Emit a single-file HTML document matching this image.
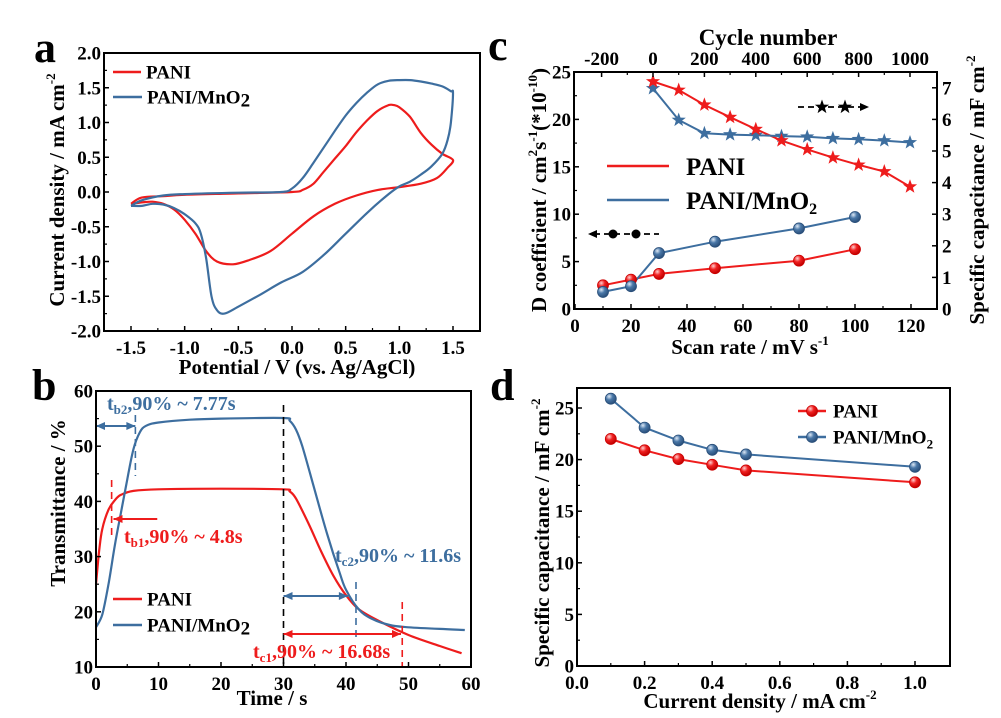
<!DOCTYPE html>
<html><head><meta charset="utf-8">
<style>
html,body{margin:0;padding:0;background:#fff;}
svg{display:block;font-family:"Liberation Serif",serif;font-weight:bold;}
</style></head>
<body>
<svg id="fig" width="1001" height="718" viewBox="0 0 1001 718" xmlns="http://www.w3.org/2000/svg">
<defs>
<radialGradient id="gRed" cx="0.35" cy="0.3" r="0.7"><stop offset="0" stop-color="#ffd0d0"/><stop offset="0.45" stop-color="#f02020"/><stop offset="1" stop-color="#c00000"/></radialGradient>
<radialGradient id="gBlue" cx="0.35" cy="0.3" r="0.7"><stop offset="0" stop-color="#dde8f5"/><stop offset="0.45" stop-color="#4a78a8"/><stop offset="1" stop-color="#2a4f7a"/></radialGradient>
</defs>
</svg>
<script>
// ---------- Panel a data (CV) ----------
const cvPaniV = [-1.5,-1.4,-1.2,-1.0,-0.5,0,0.1,0.2,0.3,0.4,0.5,0.6,0.7,0.8,0.9,0.95,1.0,1.1,1.2,1.3,1.4,1.5,1.45,1.35,1.2,1.0,0.8,0.6,0.4,0.2,0.0,-0.2,-0.4,-0.55,-0.7,-0.8,-0.9,-1.0,-1.1,-1.2,-1.3,-1.4,-1.5];
const cvPaniI = [-0.17,-0.08,-0.06,-0.04,-0.02,0.0,0.03,0.12,0.3,0.48,0.66,0.86,1.03,1.17,1.25,1.25,1.22,1.08,0.85,0.68,0.55,0.46,0.35,0.2,0.12,0.07,0.03,-0.05,-0.17,-0.35,-0.6,-0.85,-0.98,-1.04,-1.0,-0.85,-0.6,-0.4,-0.25,-0.17,-0.14,-0.15,-0.17];
const cvMnV = [-1.5,-1.4,-1.2,-1.0,-0.5,-0.1,0.0,0.1,0.2,0.3,0.4,0.5,0.6,0.7,0.8,0.9,1.0,1.1,1.2,1.3,1.4,1.48,1.5,1.48,1.45,1.4,1.3,1.2,1.1,1.0,0.9,0.7,0.5,0.3,0.1,-0.1,-0.3,-0.5,-0.63,-0.7,-0.75,-0.8,-0.85,-0.9,-1.0,-1.1,-1.2,-1.3,-1.4,-1.5];
const cvMnI = [-0.2,-0.12,-0.05,-0.03,-0.01,0.0,0.05,0.2,0.42,0.65,0.88,1.1,1.28,1.43,1.55,1.6,1.61,1.61,1.59,1.56,1.52,1.45,1.42,1.0,0.75,0.55,0.37,0.25,0.15,0.08,-0.03,-0.3,-0.6,-0.9,-1.15,-1.3,-1.48,-1.65,-1.75,-1.7,-1.5,-0.95,-0.6,-0.45,-0.32,-0.23,-0.18,-0.17,-0.2,-0.2];
const aXTicks = [-1.5,-1.0,-0.5,0.0,0.5,1.0,1.5];
const aYTicks = [-2.0,-1.5,-1.0,-0.5,0.0,0.5,1.0,1.5,2.0];
// ---------- Panel b data (transmittance) ----------
const trPaniT = [0,0.5,1,2,3,4,6,10,20,30,31,32,34,36,38,40,42,45,50,55,58.5];
const trPaniY = [25,31,35,38.5,40.2,41.2,41.9,42.2,42.3,42.2,41.8,40.5,36,31,26.5,23,20.5,18.5,15.8,13.8,12.5];
const trMnT = [0,1,2,3,4,5,6,7,8,10,15,20,30,31,32,33,35,37,39,40,42,44,47,50,55,59];
const trMnY = [17.2,19.5,25,32,38,44,49.5,52.5,53.7,54.3,54.8,55,55.1,54.6,53,50,42,34,27,24,20.5,18.8,17.6,17.2,16.9,16.7];
const bXTicks = [0,10,20,30,40,50,60];
const bYTicks = [10,20,30,40,50,60];
// ---------- Panel c data ----------
const scanRates = [10,20,30,50,80,100];
const dPani = [2.5,3.1,3.7,4.3,5.1,6.3];
const dMn = [1.8,2.4,5.9,7.1,8.5,9.7];
const cycles = [0,100,200,300,400,500,600,700,800,900,1000];
const capCyclePani = [7.2,6.93,6.46,6.07,5.69,5.33,5.05,4.79,4.56,4.35,3.87];
const capCycleMn = [6.98,5.98,5.56,5.52,5.5,5.47,5.45,5.4,5.37,5.33,5.27];
const cXTicks = [0,20,40,60,80,100,120];
const cYTicks = [0,5,10,15,20,25];
const cTopTicks = [-200,0,200,400,600,800,1000];
const cRightTicks = [0,1,2,3,4,5,6,7];
// ---------- Panel d data ----------
const currDens = [0.1,0.2,0.3,0.4,0.5,1.0];
const capPani = [22.0,20.9,20.05,19.5,18.95,17.8];
const capMn = [25.9,23.1,21.85,20.95,20.5,19.3];
const dXTicks = [0.0,0.2,0.4,0.6,0.8,1.0];
const dYTicks = [0,5,10,15,20,25];

const NS = "http://www.w3.org/2000/svg";
const svg = document.getElementById('fig');
const RED = "#ee1c1c", BLUE = "#3d6e9f";
const TICK = 19, TITLE = 21;
function el(tag, attrs, parent, text){
  const e = document.createElementNS(NS, tag);
  for (const k in attrs) e.setAttribute(k, attrs[k]);
  if (text !== undefined) e.textContent = text;
  (parent || svg).appendChild(e);
  return e;
}
function lin(d0,d1,r0,r1){ return v => r0 + (v-d0)*(r1-r0)/(d1-d0); }
function fmt(v,dec){ return v.toFixed(dec); }
function pathFrom(xs, ys, sx, sy){
  return xs.map((x,i)=>(i?'L':'M')+sx(x).toFixed(1)+' '+sy(ys[i]).toFixed(1)).join(' ');
}
function smoothPath(xs, ys, sx, sy){
  const p = xs.map((x,i)=>[sx(x), sy(ys[i])]);
  let d = 'M'+p[0][0].toFixed(1)+' '+p[0][1].toFixed(1);
  for (let i=0;i<p.length-1;i++){
    const p0=p[Math.max(0,i-1)], p1=p[i], p2=p[i+1], p3=p[Math.min(p.length-1,i+2)];
    const c1=[p1[0]+(p2[0]-p0[0])/6, p1[1]+(p2[1]-p0[1])/6];
    const c2=[p2[0]-(p3[0]-p1[0])/6, p2[1]-(p3[1]-p1[1])/6];
    d+=' C'+c1[0].toFixed(1)+' '+c1[1].toFixed(1)+' '+c2[0].toFixed(1)+' '+c2[1].toFixed(1)+' '+p2[0].toFixed(1)+' '+p2[1].toFixed(1);
  }
  return d;
}
function frame(g, x0,y0,x1,y1){
  const r = el('rect',{x:x0,y:y0,width:x1-x0,height:y1-y0,fill:'none',stroke:'#000','stroke-width':2},g);
  
  
}
function xTicks(g, ticks, sx, yb, dec, minor, side){
  ticks.forEach((t,i)=>{
    const x = sx(t);
    el('line',{x1:x,x2:x,y1:yb,y2:side==='top'?yb+5:yb-5,stroke:'#000','stroke-width':1.5},g);
    const tx = el('text',{x:x,y:side==='top'?yb-7:yb+23,'text-anchor':'middle','font-size':TICK},g,fmt(t,dec));
    
    
    if (minor && i<ticks.length-1){
      const xm = sx((t+ticks[i+1])/2);
      el('line',{x1:xm,x2:xm,y1:yb,y2:side==='top'?yb+3:yb-3,stroke:'#000','stroke-width':1.2},g);
    }
  });
}
function yTicks(g, ticks, sy, xl, dec, minor, side){
  ticks.forEach((t,i)=>{
    const y = sy(t);
    const dir = side==='right' ? -1 : 1;
    el('line',{x1:xl,x2:xl+5*dir,y1:y,y2:y,stroke:'#000','stroke-width':1.5},g);
    const tx = el('text',{x:side==='right'?xl+5:xl-3,y:y+6.5,'text-anchor':side==='right'?'start':'end','font-size':TICK},g,fmt(t,dec));
    
    
    if (minor && i<ticks.length-1){
      const ym = sy((t+ticks[i+1])/2);
      el('line',{x1:xl,x2:xl+3*dir,y1:ym,y2:ym,stroke:'#000','stroke-width':1.2},g);
    }
  });
}
function panelLetter(ch,x,y){
  const t = el('text',{x:x,y:y,'font-size':44},svg,ch);
  
  
}
function rotTitle(g, x, y, html, name, size){
  const t = el('text',{x:x,y:y,'text-anchor':'middle','font-size':size||TITLE,transform:'rotate(-90 '+x+' '+y+')'},g);
  t.innerHTML = html;
  
  
  return t;
}
function title(g,x,y,html,name,size){
  const t = el('text',{x:x,y:y,'text-anchor':'middle','font-size':size||TITLE},g);
  t.innerHTML = html;
  
  
  return t;
}
function ball(g,x,y,grad,name){
  const c = el('circle',{cx:x,cy:y,r:5.5,fill:'url(#'+grad+')',stroke:grad==='gRed'?'#c00':'#2a4f7a','stroke-width':0.8},g);
  
  
}
function star(g,x,y,color,name){
  const pts=[];
  for(let k=0;k<10;k++){const r=k%2?3:7.5;const a=-Math.PI/2+k*Math.PI/5;pts.push((x+r*Math.cos(a)).toFixed(1)+','+(y+r*Math.sin(a)).toFixed(1));}
  const s = el('polygon',{points:pts.join(' '),fill:color},g);
  
  
}
function legendLine(g,x1,x2,y,color,label,size,tx){
  const l = el('line',{x1:x1,x2:x2,y1:y,y2:y,stroke:color,'stroke-width':2.5},g);
  
  
  const t = el('text',{x:tx,y:y+size*0.35,'font-size':size},g);
  t.innerHTML = label;
  
  
}

// ================= Panel a =================
(function(){
  const g = el('g',{});
  
  
  const x0=104,x1=480,y0=53,y1=331;
  const sx = lin(-1.5,1.5,131,453), sy = lin(-2,2,331,53);
  const p1 = el('path',{d:smoothPath(cvPaniV,cvPaniI,sx,sy),fill:'none',stroke:RED,'stroke-width':2.2},g);
  
  
  const p2 = el('path',{d:smoothPath(cvMnV,cvMnI,sx,sy),fill:'none',stroke:BLUE,'stroke-width':2.2},g);
  
  
  frame(g,x0,y0,x1,y1);
  xTicks(g,aXTicks,sx,y1,1,true);
  yTicks(g,aYTicks,sy,x0,1,true);
  rotTitle(g,64,190,'Current density / mA cm<tspan font-size="13" dy="-9">-2</tspan>','y-axis-title');
  title(g,297,374,'Potential / V (vs. Ag/AgCl)','x-axis-title');
  legendLine(g,113,141,72,RED,'PANI',19,146);
  legendLine(g,113,142,97,BLUE,'PANI/MnO<tspan font-size="19" dy="3">2</tspan>',19,147);
})();
panelLetter('a',34,62);

// ================= Panel b =================
(function(){
  const g = el('g',{});
  
  
  const x0=96,x1=471,y0=391,y1=667;
  const sx = lin(0,60,96,471), sy = lin(10,60,667,391);
  const p1 = el('path',{d:smoothPath(trPaniT,trPaniY,sx,sy),fill:'none',stroke:RED,'stroke-width':2.2},g);
  
  
  const p2 = el('path',{d:smoothPath(trMnT,trMnY,sx,sy),fill:'none',stroke:BLUE,'stroke-width':2.2},g);
  
  
  const dash = (x,ya,yb,c,n)=>{const l=el('line',{x1:x,x2:x,y1:ya,y2:yb,stroke:c,'stroke-width':1.6,'stroke-dasharray':'7,5'},g);};
  dash(sx(30),405,667,'#000','switch-time-marker');
  dash(sx(6.3),415,476,BLUE,'tb2-marker');
  dash(sx(2.5),480,538,RED,'tb1-marker');
  dash(sx(41.6),582,642,BLUE,'tc2-marker');
  dash(sx(49),602,667,RED,'tc1-marker');
  const arrow=(xa,xb,y,c,both,n)=>{
    const gg=el('g',{},g);
    el('line',{x1:xa,x2:xb,y1:y,y2:y,stroke:c,'stroke-width':2},gg);
    el('polygon',{points:xb+','+y+' '+(xb+(xa<xb?-9:9))+','+(y-4)+' '+(xb+(xa<xb?-9:9))+','+(y+4),fill:c},gg);
    if(both) el('polygon',{points:xa+','+y+' '+(xa+(xa<xb?9:-9))+','+(y-4)+' '+(xa+(xa<xb?9:-9))+','+(y+4),fill:c},gg);
  };
  arrow(sx(0),sx(6.3),426,BLUE,true,'tb2-arrow');
  arrow(sx(9.8),sx(2.8),519,RED,false,'tb1-arrow');
  arrow(sx(30),sx(40.3),596,BLUE,true,'tc2-arrow');
  arrow(sx(30),sx(48.8),634,RED,true,'tc1-arrow');
  const ann=(x,y,c,html,n)=>{const t=el('text',{x:x,y:y,'font-size':20,fill:c},g);t.innerHTML=html;};
  ann(107,410,BLUE,'t<tspan font-size="13" dy="4">b2</tspan><tspan dy="-4">,90% ~ 7.77s</tspan>','tb2-annotation');
  ann(124,543,RED,'t<tspan font-size="13" dy="4">b1</tspan><tspan dy="-4">,90% ~ 4.8s</tspan>','tb1-annotation');
  ann(335,562,BLUE,'t<tspan font-size="13" dy="4">c2</tspan><tspan dy="-4">,90% ~ 11.6s</tspan>','tc2-annotation');
  ann(253,658,RED,'t<tspan font-size="13" dy="4">c1</tspan><tspan dy="-4">,90% ~ 16.68s</tspan>','tc1-annotation');
  frame(g,x0,y0,x1,y1);
  xTicks(g,bXTicks,sx,y1,0,true);
  yTicks(g,bYTicks,sy,x0,0,true);
  rotTitle(g,65,503,'Transmittance / %','y-axis-title');
  title(g,272,705,'Time / s','x-axis-title');
  legendLine(g,113,142,599,RED,'PANI',19,147);
  legendLine(g,113,142,625,BLUE,'PANI/MnO<tspan font-size="19" dy="3">2</tspan>',19,147);
})();
panelLetter('b',32,400);

// ================= Panel c =================
(function(){
  const g = el('g',{});
  
  
  const x0=574,x1=937,y0=72,y1=309;
  const sx = lin(0,120,575,911), sy = lin(0,25,309,72);
  const st = lin(0,1000,653,910), sr = lin(0,7.5,309,72);
  const series=(xs,ys,fx,fy,c,n)=>{const p=el('path',{d:pathFrom(xs,ys,fx,fy),fill:'none',stroke:c,'stroke-width':2},g);};
  series(scanRates,dPani,sx,sy,RED,'d-line-pani');
  series(scanRates,dMn,sx,sy,BLUE,'d-line-pani-mno2');
  series(cycles,capCyclePani,st,sr,RED,'cycle-line-pani');
  series(cycles,capCycleMn,st,sr,BLUE,'cycle-line-pani-mno2');
  scanRates.forEach((r,i)=>{ball(g,sx(r),sy(dPani[i]),'gRed','d-point-pani');});
  scanRates.forEach((r,i)=>{ball(g,sx(r),sy(dMn[i]),'gBlue','d-point-pani-mno2');});
  cycles.forEach((c,i)=>{star(g,st(c),sr(capCycleMn[i]),BLUE,'cycle-star-pani-mno2');});
  cycles.forEach((c,i)=>{star(g,st(c),sr(capCyclePani[i]),RED,'cycle-star-pani');});
  frame(g,x0,y0,x1,y1);
  xTicks(g,cXTicks,sx,y1,0,true);
  yTicks(g,cYTicks,sy,x0,0,true);
  xTicks(g,cTopTicks,st,y0,0,true,'top');
  yTicks(g,cRightTicks,sr,x1,0,false,'right');
  title(g,768,45,'Cycle number','top-axis-title',23);
  title(g,750,354,'Scan rate / mV s<tspan font-size="13" dy="-9">-1</tspan>','x-axis-title');
  rotTitle(g,546,190,'D coefficient / cm<tspan font-size="13" dy="-9">2</tspan><tspan dy="9">s</tspan><tspan font-size="13" dy="-9">-1</tspan><tspan dy="9">(*10</tspan><tspan font-size="13" dy="-9">-10</tspan><tspan dy="9">)</tspan>','y-axis-title-left');
  rotTitle(g,984,190,'Specific capacitance / mF cm<tspan font-size="13" dy="-9">-2</tspan>','y-axis-title-right');
  legendLine(g,607,669,166,RED,'PANI',25,686);
  legendLine(g,607,669,200,BLUE,'PANI/MnO<tspan font-size="16" dy="5">2</tspan>',25,686);
  const ind1=el('g',{},g);
  el('line',{x1:594,x2:659,y1:234,y2:234,stroke:'#000','stroke-width':1.8,'stroke-dasharray':'6,4'},ind1);
  el('polygon',{points:'588,234 597,230 597,238',fill:'#000'},ind1);
  el('circle',{cx:613,cy:234,r:4.5,fill:'#000'},ind1);el('circle',{cx:636,cy:234,r:4.5,fill:'#000'},ind1);
  const ind2=el('g',{},g);
  el('line',{x1:798,x2:862,y1:107,y2:107,stroke:'#000','stroke-width':1.8,'stroke-dasharray':'6,4'},ind2);
  el('polygon',{points:'869,107 860,103 860,111',fill:'#000'},ind2);
  star(ind2,822,107,'#000','indicator-star');star(ind2,845,107,'#000','indicator-star');
})();
panelLetter('c',488,60);

// ================= Panel d =================
(function(){
  const g = el('g',{});
  
  
  const x0=577,x1=950,y0=388,y1=666;
  const sx = lin(0,1.0,577,915), sy = lin(0,25,666,408);
  const p1=el('path',{d:pathFrom(currDens,capPani,sx,sy),fill:'none',stroke:RED,'stroke-width':2},g);
  
  const p2=el('path',{d:pathFrom(currDens,capMn,sx,sy),fill:'none',stroke:BLUE,'stroke-width':2},g);
  
  currDens.forEach((c,i)=>{ball(g,sx(c),sy(capPani[i]),'gRed','cap-point-pani');});
  currDens.forEach((c,i)=>{ball(g,sx(c),sy(capMn[i]),'gBlue','cap-point-pani-mno2');});
  frame(g,x0,y0,x1,y1);
  xTicks(g,dXTicks,sx,y1,1,true);
  yTicks(g,dYTicks,sy,x0,0,true);
  rotTitle(g,549,533,'Specific capacitance / mF cm<tspan font-size="13" dy="-9">-2</tspan>','y-axis-title');
  title(g,760,708,'Current density / mA cm<tspan font-size="13" dy="-9">-2</tspan>','x-axis-title');
  legendLine(g,798,826,411,RED,'PANI',19,833);
  ball(g,812,411,'gRed','legend-marker-pani');
  legendLine(g,798,826,437,BLUE,'PANI/MnO<tspan font-size="13" dy="5">2</tspan>',19,833);
  ball(g,812,437,'gBlue','legend-marker-pani-mno2');
})();
panelLetter('d',490,400);
</script>
</body></html>
